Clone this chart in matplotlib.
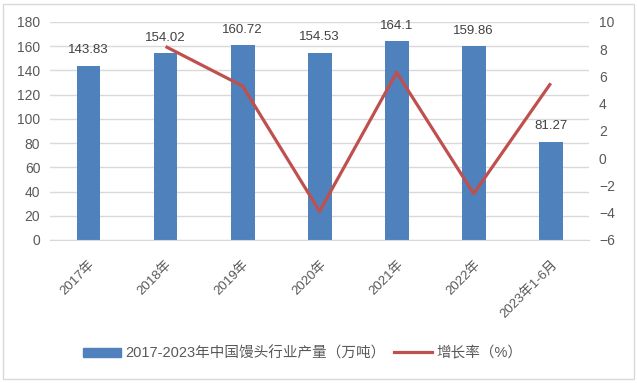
import matplotlib
matplotlib.use('Agg')
import matplotlib.pyplot as plt
from matplotlib.patches import Rectangle
from matplotlib.lines import Line2D

plt.rcParams['font.family'] = ['Liberation Sans', 'Noto Sans CJK SC', 'DejaVu Sans']

# 数据
categories = ['2017年', '2018年', '2019年', '2020年', '2021年', '2022年', '2023年1-6月']
output = [143.83, 154.02, 160.72, 154.53, 164.1, 159.86, 81.27]
growth_x = ['2018年', '2019年', '2020年', '2021年', '2022年', '2023年1-6月']
growth = [8.2, 5.3, -3.9, 6.3, -2.6, 5.5]

bar_label = '2017-2023年中国馒头行业产量（万吨）'
line_label = '增长率（%）'
bar_color = '#4F81BD'
line_color = '#C0504D'
text_color = '#595959'

fig = plt.figure(figsize=(6.37, 3.83), dpi=100)
ax = fig.add_axes([0.0785, 0.3734, 0.8465, 0.5692])
ax2 = ax.twinx()

x = list(range(len(categories)))
ax.bar(x, output, width=0.31, color=bar_color, zorder=2)
for xi, v in zip(x, output):
    ax.annotate(f'{v:g}', (xi, v), xytext=(0, 7), textcoords='offset points',
                ha='center', va='bottom', fontsize=9.5, color='#404040')

gx = [categories.index(c) for c in growth_x]
ax2.plot(gx, growth, color=line_color, lw=2.3, zorder=3, solid_capstyle='butt')

ax.set_xlim(-0.5, len(categories) - 0.5)
ax.set_ylim(0, 180)
ax.set_yticks(range(0, 181, 20))
ax2.set_ylim(-6, 10)
ax2.set_yticks(range(-6, 11, 2))
ax.yaxis.grid(True, color='#D9D9D9', lw=1, zorder=0)
ax.set_axisbelow(True)

ax.set_xticks(x)
ax.set_xticklabels(categories, rotation=45, ha='right', rotation_mode='anchor')
for a in (ax, ax2):
    for s in a.spines.values():
        s.set_visible(False)
    a.tick_params(length=0, labelsize=10, colors=text_color, pad=7)
ax.spines['bottom'].set_visible(True)
ax.spines['bottom'].set_color('#D9D9D9')
ax.tick_params(axis='x', pad=13, labelsize=9.5)

handles = [Rectangle((0, 0), 1, 1, color=bar_color),
           Line2D([0], [0], color=line_color, lw=2.3)]
fig.legend(handles, [bar_label, line_label], loc='center', bbox_to_anchor=(0.475, 0.078),
           ncol=2, frameon=False, fontsize=10.5, handlelength=2.6, handleheight=0.6,
           columnspacing=0.6, handletextpad=0.3, labelcolor=text_color)

fig.patches.append(Rectangle((0.005, 0.01), 0.99, 0.98, transform=fig.transFigure,
                             fill=False, edgecolor='#D9D9D9', lw=1))

fig.savefig('out.png', dpi=100)
